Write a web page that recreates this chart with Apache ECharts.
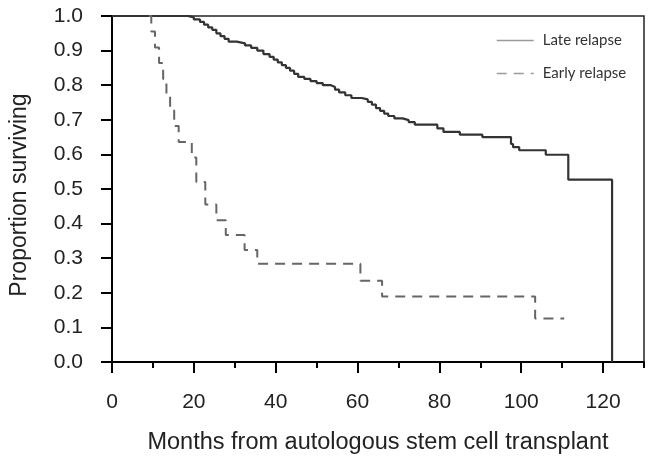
<!DOCTYPE html>
<html>
<head>
<meta charset="utf-8">
<script src="https://cdn.jsdelivr.net/npm/echarts@6/dist/echarts.min.js"></script>
<style>
  html, body { margin: 0; padding: 0; background: #fff; }
  #main { width: 654px; height: 460px; }
</style>
</head>
<body>
<div id="main"></div>
<script>
// x tick labels
var xTicks = [0, 20, 40, 60, 80, 100, 120];

// Late relapse (months, proportion surviving after the step)
var lateMonths = [0, 18.5, 20, 21.5, 22.5, 23.5, 24.5, 25.5, 26.5, 27.5, 28.5, 30.5, 32.5, 34, 35.5,
    37, 38.5, 39.5, 40.5, 41.5, 42.5, 43.5, 44.5, 45.5, 47, 48.5, 50, 51.5, 53.5, 54.5, 55.5, 57,
    58.5, 61, 62.5, 63.5, 64.5, 65.5, 66.5, 67.5, 69, 71, 72.5, 74, 79.5, 81, 85, 90.5, 97.5, 98,
    99.5, 106, 111.5, 122.2, 122.2];
var lateSurv = [1.0, 0.996, 0.99, 0.983, 0.975, 0.967, 0.96, 0.95, 0.942, 0.934, 0.926, 0.921, 0.915, 0.908, 0.9,
    0.89, 0.882, 0.874, 0.866, 0.858, 0.85, 0.842, 0.833, 0.824, 0.818, 0.812, 0.806, 0.8, 0.795, 0.787, 0.779, 0.771,
    0.763, 0.759, 0.752, 0.744, 0.734, 0.726, 0.718, 0.711, 0.704, 0.699, 0.693, 0.686, 0.675, 0.665, 0.657, 0.65, 0.63, 0.621,
    0.612, 0.599, 0.527, 0.527, 0];

// Early relapse
var earlyMonths = [9, 9.6, 10.5, 11.5, 12.5, 13.3, 14.2, 15.2, 16.3, 19.5, 20.6, 22.8, 25.5, 27.8, 32.4, 35.5, 60.7, 66, 103.4, 110.5];
var earlySurv = [1.0, 0.955, 0.909, 0.864, 0.818, 0.773, 0.727, 0.682, 0.636, 0.591, 0.52, 0.455, 0.41, 0.367, 0.324, 0.284, 0.235, 0.189, 0.126, 0.126];

function pairs(xs, ys) {
    var out = [];
    for (var i = 0; i < xs.length; i++) out.push([xs[i], ys[i]]);
    return out;
}

var chart = echarts.init(document.getElementById('main'));
var axisFont = 'Liberation Sans, Arial, sans-serif';

var option = {
    animation: false,
    grid: {
        left: 111, right: 10, top: 16, bottom: 95,
        show: true, borderColor: '#222', borderWidth: 1.5
    },
    legend: {
        orient: 'vertical',
        left: 496, top: 33, padding: 0,
        itemWidth: 37, itemHeight: 14, itemGap: 18,
        data: ['Late relapse', 'Early relapse'],
        itemStyle: { opacity: 0 },
        lineStyle: { color: '#9a9a9a', width: 1.5 },
        textStyle: { fontFamily: 'Lato, sans-serif', fontSize: 15, color: '#333', padding: [0, 0, 0, 4] }
    },
    xAxis: [{
        type: 'value', min: 0, max: 130, interval: 20,
        name: 'Months from autologous stem cell transplant',
        nameLocation: 'middle', nameGap: 69,
        nameTextStyle: { fontFamily: axisFont, fontSize: 23.5, color: '#222' },
        axisLine: { show: true, lineStyle: { color: '#000', width: 2 } },
        axisTick: { show: true, length: 11, lineStyle: { color: '#000', width: 2 }, customValues: xTicks },
        axisLabel: { margin: 30, fontFamily: axisFont, fontSize: 21, color: '#222', customValues: xTicks },
        splitLine: { show: false }
    }, {
        type: 'value', min: 0, max: 130, interval: 10, position: 'bottom',
        axisLine: { show: false },
        axisTick: { show: true, length: 6, lineStyle: { color: '#000', width: 2 } },
        axisLabel: { show: false },
        splitLine: { show: false }
    }],
    yAxis: {
        type: 'value', min: 0, max: 1, interval: 0.1,
        name: 'Proportion surviving',
        nameLocation: 'middle', nameGap: 81,
        nameTextStyle: { fontFamily: axisFont, fontSize: 23, color: '#222', padding: [0, 12, 0, 0] },
        axisLine: { show: true, lineStyle: { color: '#000', width: 2 } },
        axisTick: { show: true, length: 11, lineStyle: { color: '#000', width: 2 } },
        axisLabel: {
            margin: 29, fontFamily: axisFont, fontSize: 21, color: '#222',
            formatter: function(v) { return v.toFixed(1); }
        },
        splitLine: { show: false }
    },
    series: [{
        name: 'Late relapse',
        type: 'line',
        step: 'end',
        showSymbol: false,
        symbol: 'none',
        lineStyle: { color: '#333', width: 2.2 },
        itemStyle: { color: '#333' },
        data: pairs(lateMonths, lateSurv)
    }, {
        name: 'Early relapse',
        type: 'line',
        step: 'end',
        showSymbol: false,
        symbol: 'none',
        lineStyle: { color: '#666', width: 2, type: [10, 7] },
        itemStyle: { color: '#666' },
        data: pairs(earlyMonths, earlySurv)
    }]
};

chart.setOption(option);
</script>
</body>
</html>
